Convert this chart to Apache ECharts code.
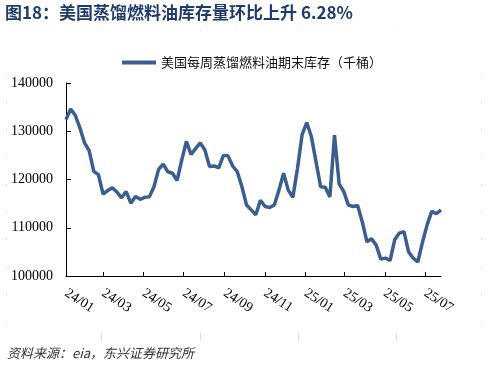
<!DOCTYPE html>
<html>
<head>
<meta charset="utf-8">
<script src="https://cdn.jsdelivr.net/npm/echarts@6/dist/echarts.min.js"></script>
<style>
html,body{margin:0;padding:0;background:#fff;}
#c{width:488px;height:369px;}
</style>
</head>
<body>
<div id="c"></div>
<script>
var startDate = '2024-01-05';
var endDate = '2025-07-25';
var seriesName = '美国每周蒸馏燃料油期末库存（千桶）';
var values = [
  132400, 134600, 133300, 130700, 127600, 126000, 121700, 121000, 117000, 117700,
  118300, 117400, 116200, 117500, 115100, 116500, 115900, 116300, 116400, 118500,
  122100, 123200, 121600, 121300, 119800, 124000, 127900, 125200, 126400, 127600,
  126100, 122700, 122800, 122400, 125000, 124900, 122800, 121600, 118500, 114700,
  113700, 112700, 115700, 114400, 114200, 114700, 117800, 121300, 117800, 116300,
  122300, 129300, 131800, 128900, 123700, 118500, 118400, 116400, 129200, 119100,
  117500, 114700, 114400, 114600, 111200, 107100, 107700, 106400, 103500, 103700,
  103200, 107500, 108900, 109200, 105000, 103700, 102900, 107000, 110600, 113400,
  112900, 113700
];
var tickDates = ['2024-01-05','2024-03-01','2024-05-01','2024-07-01','2024-09-01','2024-11-01',
                 '2025-01-01','2025-03-01','2025-05-01','2025-07-01'];
var tickLabels = ['24/01','24/03','24/05','24/07','24/09','24/11','25/01','25/03','25/05','25/07'];
var yTicks = [100000, 110000, 120000, 130000, 140000];

function ts(s){ var p = s.split('-'); return Date.UTC(+p[0], +p[1]-1, +p[2]); }
var DAY = 86400000;
var t0 = ts(startDate);
var data = values.map(function(v, i){ return [t0 + i*7*DAY, v]; });
var tickTs = tickDates.map(ts);

var chart = echarts.init(document.getElementById('c'), null, {renderer:'canvas'});
var lineColor = '#3b5e8f';
var serif = 'Liberation Serif';
var cjk = '"Noto Sans CJK SC","Noto Sans",sans-serif';

var graphics = [
  {type:'text', left:5, top:4, style:{text:'图18：美国蒸馏燃料油库存量环比上升 6.28%', fill:'#1f3b6d', font:'bold 17px ' + cjk}},
  {type:'text', left:7, top:347, style:{text:'资料来源：eia，东兴证券研究所', fill:'#333', font:'italic 13px ' + cjk}}
];
[101,200,298,396].forEach(function(x){
  graphics.push({type:'rect', shape:{x:x, y:29, width:1, height:1}, style:{fill:'#ddd'}});
  graphics.push({type:'rect', shape:{x:x, y:333, width:1, height:8}, style:{fill:'#ddd'}});
});
[74,102,129,157,184,211,239,267,294,322].forEach(function(y){
  graphics.push({type:'rect', shape:{x:6, y:y, width:1, height:1}, style:{fill:'#ccc'}});
  graphics.push({type:'rect', shape:{x:481, y:y, width:1, height:1}, style:{fill:'#ccc'}});
});

chart.setOption({
  animation:false,
  backgroundColor:'#fff',
  grid:{left:66, right:47, top:83, bottom:93, containLabel:false},
  legend:{
    data:[{name:seriesName, icon:'rect'}],
    left:117, top:51, itemWidth:34, itemHeight:4, itemGap:5,
    textStyle:{fontFamily:cjk, fontSize:13, color:'#111'}
  },
  xAxis:{
    type:'value',
    min:t0,
    max:ts(endDate),
    axisLine:{lineStyle:{color:'#000', width:1}},
    axisTick:{show:true, inside:true, length:4, lineStyle:{color:'#000'}, customValues:tickTs},
    splitLine:{show:false},
    axisLabel:{
      customValues:tickTs,
      rotate:-33,
      margin:16,
      fontFamily:serif, fontSize:14, color:'#000',
      formatter:function(v){ var i = tickTs.indexOf(v); return i>=0 ? tickLabels[i] : ''; }
    }
  },
  yAxis:{
    type:'value',
    min:yTicks[0], max:yTicks[yTicks.length-1], interval:10000,
    axisLine:{show:true, lineStyle:{color:'#000', width:1}},
    axisTick:{show:true, inside:true, length:5, lineStyle:{color:'#000'}},
    splitLine:{show:false},
    axisLabel:{margin:13, fontFamily:serif, fontSize:14, color:'#000',
      formatter:function(v){ return String(v); }}
  },
  series:[{
    name:seriesName,
    type:'line',
    data:data,
    showSymbol:false,
    symbol:'none',
    lineStyle:{color:lineColor, width:3.5},
    itemStyle:{color:lineColor}
  }],
  graphic:graphics
});
</script>
</body>
</html>
